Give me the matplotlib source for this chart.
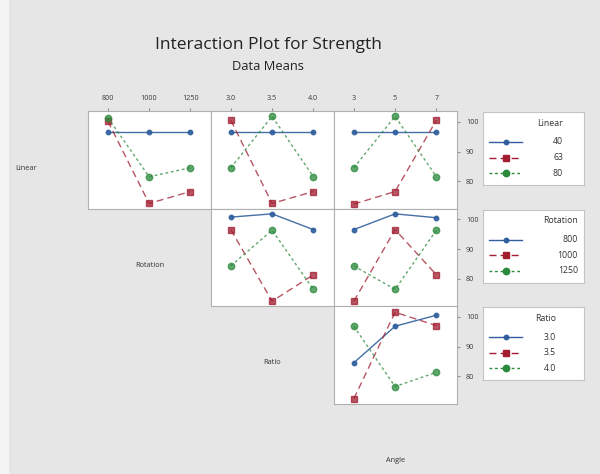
import matplotlib.pyplot as plt
from matplotlib.patches import Rectangle
from matplotlib.lines import Line2D

plt.rcParams['font.family'] = ['Open Sans', 'DejaVu Sans']

# factor levels
linear = ['40', '63', '80']
rotation = ['800', '1000', '1250']
ratio = ['3.0', '3.5', '4.0']
angle = ['3', '5', '7']

# mean Strength, one list per trace level
linearByRotation = [[96.6, 96.6, 96.6], [100.3, 72.6, 76.6], [101.5, 81.6, 84.6]]
linearByRatio = [[96.6, 96.6, 96.6], [100.6, 72.6, 76.6], [84.6, 101.9, 81.6]]
linearByAngle = [[96.6, 96.6, 96.6], [72.4, 76.6, 100.6], [84.6, 101.9, 81.6]]
rotationByRatio = [[100.8, 101.9, 96.6], [96.6, 72.5, 81.4], [84.4, 96.4, 76.5]]
rotationByAngle = [[96.6, 101.9, 100.6], [72.5, 96.6, 81.4], [84.4, 76.5, 96.4]]
ratioByAngle = [[84.6, 96.9, 100.6], [72.5, 101.6, 97.1], [96.9, 76.6, 81.4]]

names = ['Linear', 'Rotation', 'Ratio', 'Angle']
xLevels = [rotation, ratio, angle]
legendLevels = [linear, rotation, ratio]
panels = {(0, 0): linearByRotation, (0, 1): linearByRatio, (0, 2): linearByAngle,
          (1, 1): rotationByRatio, (1, 2): rotationByAngle,
          (2, 2): ratioByAngle}

W, H = 600, 474
fig = plt.figure(figsize=(6, 4.74), dpi=100)
fig.patch.set_facecolor('#e6e6e6')
fig.patches.append(Rectangle((0, 0), 9 / W, 1, transform=fig.transFigure,
                             facecolor='#f4f4f4', edgecolor='none', zorder=-5))


def box(x0, y0, x1, y1):
    # pixel rectangle -> figure fraction
    return [x0 / W, 1 - y1 / H, (x1 - x0) / W, (y1 - y0) / H]


colX = [88, 211, 334, 457]
rowY = [111, 208.5, 306, 403.5]
colors = ['#2f5f9e', '#a11d2f', '#2b8a3c']
styles = [dict(ls='-', marker='o', ms=3.2, alpha=0.9),
          dict(ls=(0, (5, 3)), marker='s', ms=4.6, alpha=0.75),
          dict(ls=(0, (2, 2)), marker='o', ms=4.6, alpha=0.75)]
edge = '#b0b0b0'

for (r, c), traces in panels.items():
    ax = fig.add_axes(box(colX[c], rowY[r], colX[c + 1], rowY[r + 1]))
    for i, vals in enumerate(traces):
        ax.plot(range(3), vals, color=colors[i], lw=1, mec=colors[i], **styles[i])
    ax.set_xlim(-0.48, 2.5)
    ax.set_ylim(70.9, 103.7)
    ax.set_xticks(range(3))
    ax.set_yticks([80, 90, 100])
    ax.set_xticklabels(xLevels[c])
    ax.set_yticklabels(['80', '90', '100'])
    ax.tick_params(labelsize=5.2, length=2.5, color='#909090', labelcolor='#3a3a3a',
                   top=(r == 0), labeltop=(r == 0), bottom=False, labelbottom=False,
                   left=False, labelleft=False, right=(c == 2), labelright=(c == 2), pad=4)
    for s in ax.spines.values():
        s.set_color(edge)
        s.set_linewidth(0.8)

# legends
legRight = [563, 578, 556]
for r in range(3):
    top = rowY[r] + 1
    lax = fig.add_axes(box(483, top, 584, top + 73))
    lax.set_xlim(483, 584)
    lax.set_ylim(top + 73, top)
    lax.set_xticks([])
    lax.set_yticks([])
    for s in lax.spines.values():
        s.set_color('#c4c4c4')
        s.set_linewidth(0.8)
    lax.text(legRight[r], top + 11, names[r], ha='right', va='center', fontsize=6.3, color='#333333')
    for i, lab in enumerate(legendLevels[r]):
        y = top + 30 + 15.5 * i
        lax.add_line(Line2D([489, 522], [y, y], color=colors[i], lw=1, ls=styles[i]['ls']))
        lax.plot([506], [y], color=colors[i], marker=styles[i]['marker'], ms=styles[i]['ms'])
        lax.text(legRight[r], y, lab, ha='right', va='center', fontsize=6.3, color='#333333')

# factor names on the diagonal
for k, name in enumerate(names):
    fig.text((colX[0] - 123 / 2 + 123 * k) / W, 1 - (rowY[0] + 57 + 97.5 * k) / H, name,
             ha='center', va='center', fontsize=5.3, color='#333333')

fig.text(268 / W, 1 - 45 / H, 'Interaction Plot for Strength', ha='center', va='center',
         fontsize=12.5, color='#222222')
fig.text(268 / W, 1 - 66 / H, 'Data Means', ha='center', va='center',
         fontsize=9.3, color='#222222')

fig.savefig('out.png', dpi=100, facecolor=fig.get_facecolor())
